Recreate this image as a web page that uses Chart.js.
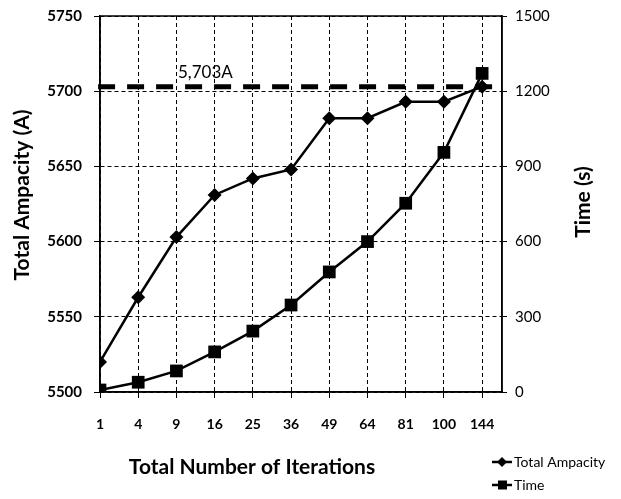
<!DOCTYPE html>
<html>
<head>
<meta charset="utf-8">
<script src="https://cdn.jsdelivr.net/npm/chart.js@4/dist/chart.umd.min.js"></script>
<style>
  html, body { margin: 0; padding: 0; background: #fff; }
  #wrap { width: 621px; height: 499px; }
</style>
</head>
<body>
<div id="wrap"><canvas id="chart" width="621" height="499"></canvas></div>
<script>
const iterations = ['1', '4', '9', '16', '25', '36', '49', '64', '81', '100', '144'];
const ampacity = [5520, 5563, 5603, 5631, 5642, 5648, 5682, 5682, 5693, 5693, 5703];
const timeSec = [8, 39, 84, 160, 243, 347, 479, 600, 753, 956, 1271];
const limitAmp = 5703;
const limitLabel = '5,703A';

const FONT = 'Lato, "Open Sans", sans-serif';
const xMax = 10.52;

const toPoints = arr => arr.map((v, i) => ({ x: i, y: v }));

const extras = {
  id: 'extras',
  afterDraw(chart) {
    const { ctx, chartArea: a } = chart;
    ctx.save();
    // plot box
    ctx.strokeStyle = '#000';
    ctx.lineWidth = 1.5;
    ctx.strokeRect(a.left, a.top, a.right - a.left, a.bottom - a.top);

    // limit label
    const yL = chart.scales.y.getPixelForValue(limitAmp);
    ctx.fillStyle = '#000';
    ctx.font = '17px ' + FONT;
    ctx.textAlign = 'left';
    ctx.textBaseline = 'bottom';
    ctx.fillText(limitLabel, 178, yL - 6);

    // axis titles
    ctx.font = 'bold 21px ' + FONT;
    ctx.textAlign = 'center';
    ctx.textBaseline = 'middle';
    ctx.fillText('Total Number of Iterations', 252, 467);

    ctx.save();
    ctx.translate(22, 195);
    ctx.rotate(-Math.PI / 2);
    ctx.fillText('Total Ampacity (A)', 0, 0);
    ctx.restore();

    ctx.save();
    ctx.translate(583, 202);
    ctx.rotate(-Math.PI / 2);
    ctx.fillText('Time (s)', 0, 0);
    ctx.restore();

    // legend
    const items = [
      { label: 'Total Ampacity', y: 462, shape: 'diamond' },
      { label: 'Time', y: 485, shape: 'square' }
    ];
    items.forEach(it => {
      ctx.lineWidth = 2.5;
      ctx.beginPath();
      ctx.moveTo(492, it.y);
      ctx.lineTo(512, it.y);
      ctx.stroke();
      ctx.beginPath();
      if (it.shape === 'diamond') {
        ctx.moveTo(502, it.y - 5);
        ctx.lineTo(507, it.y);
        ctx.lineTo(502, it.y + 5);
        ctx.lineTo(497, it.y);
        ctx.closePath();
      } else {
        ctx.rect(498, it.y - 4.5, 9, 9);
      }
      ctx.fill();
      ctx.font = '14px ' + FONT;
      ctx.textAlign = 'left';
      ctx.textBaseline = 'middle';
      ctx.fillText(it.label, 514, it.y);
    });
    ctx.restore();
  }
};

// let the plot reach the top padding exactly
const fixY = w => s => { s.width = w; s.paddingTop = 0; s.paddingBottom = 0; };

new Chart(document.getElementById('chart').getContext('2d'), {
  type: 'line',
  data: {
    datasets: [
      {
        label: 'Total Ampacity',
        data: toPoints(ampacity),
        yAxisID: 'y',
        borderColor: '#000',
        backgroundColor: '#000',
        borderWidth: 2.5,
        pointStyle: 'rectRot',
        pointRadius: 7,
        pointBorderWidth: 0
      },
      {
        label: 'Time',
        data: toPoints(timeSec),
        yAxisID: 'y1',
        borderColor: '#000',
        backgroundColor: '#000',
        borderWidth: 2.5,
        pointStyle: 'rect',
        pointRadius: 9,
        pointBorderWidth: 0
      },
      {
        label: 'limit',
        data: [{ x: -0.05, y: limitAmp }, { x: xMax, y: limitAmp }],
        yAxisID: 'y',
        borderColor: '#000',
        borderWidth: 5,
        borderDash: [17, 12],
        pointRadius: 0,
        clip: false
      }
    ]
  },
  options: {
    responsive: false,
    animation: false,
    layout: { padding: { top: 16, left: 0, right: 0, bottom: 0 } },
    plugins: { legend: { display: false }, tooltip: { enabled: false } },
    scales: {
      x: {
        type: 'linear',
        min: 0,
        max: xMax,
        afterFit: s => { s.height = 107; },
        ticks: {
          stepSize: 1,
          includeBounds: false,
          autoSkip: false,
          maxRotation: 0,
          padding: 18,
          color: '#000',
          font: { family: FONT, size: 14, weight: 'bold' },
          callback: v => iterations[v] ?? ''
        },
        grid: { color: '#000', lineWidth: 1, tickLength: 6 },
        border: { color: '#000', width: 1.5, dash: [4, 3] }
      },
      y: {
        position: 'left',
        min: 5500,
        max: 5750,
        afterFit: fixY(100),
        ticks: {
          stepSize: 50,
          padding: 12,
          color: '#000',
          font: { family: FONT, size: 15, weight: 'bold' },
          callback: v => String(v)
        },
        grid: { color: '#000', lineWidth: 1, tickLength: 6 },
        border: { color: '#000', width: 1.5, dash: [4, 3] }
      },
      y1: {
        position: 'right',
        min: 0,
        max: 1500,
        afterFit: fixY(119),
        ticks: {
          stepSize: 300,
          padding: 8,
          color: '#000',
          font: { family: FONT, size: 15 },
          callback: v => String(v)
        },
        grid: { drawOnChartArea: false, color: '#000', tickLength: 5 },
        border: { color: '#000', width: 1.5 }
      }
    }
  },
  plugins: [extras]
});
</script>
</body>
</html>
